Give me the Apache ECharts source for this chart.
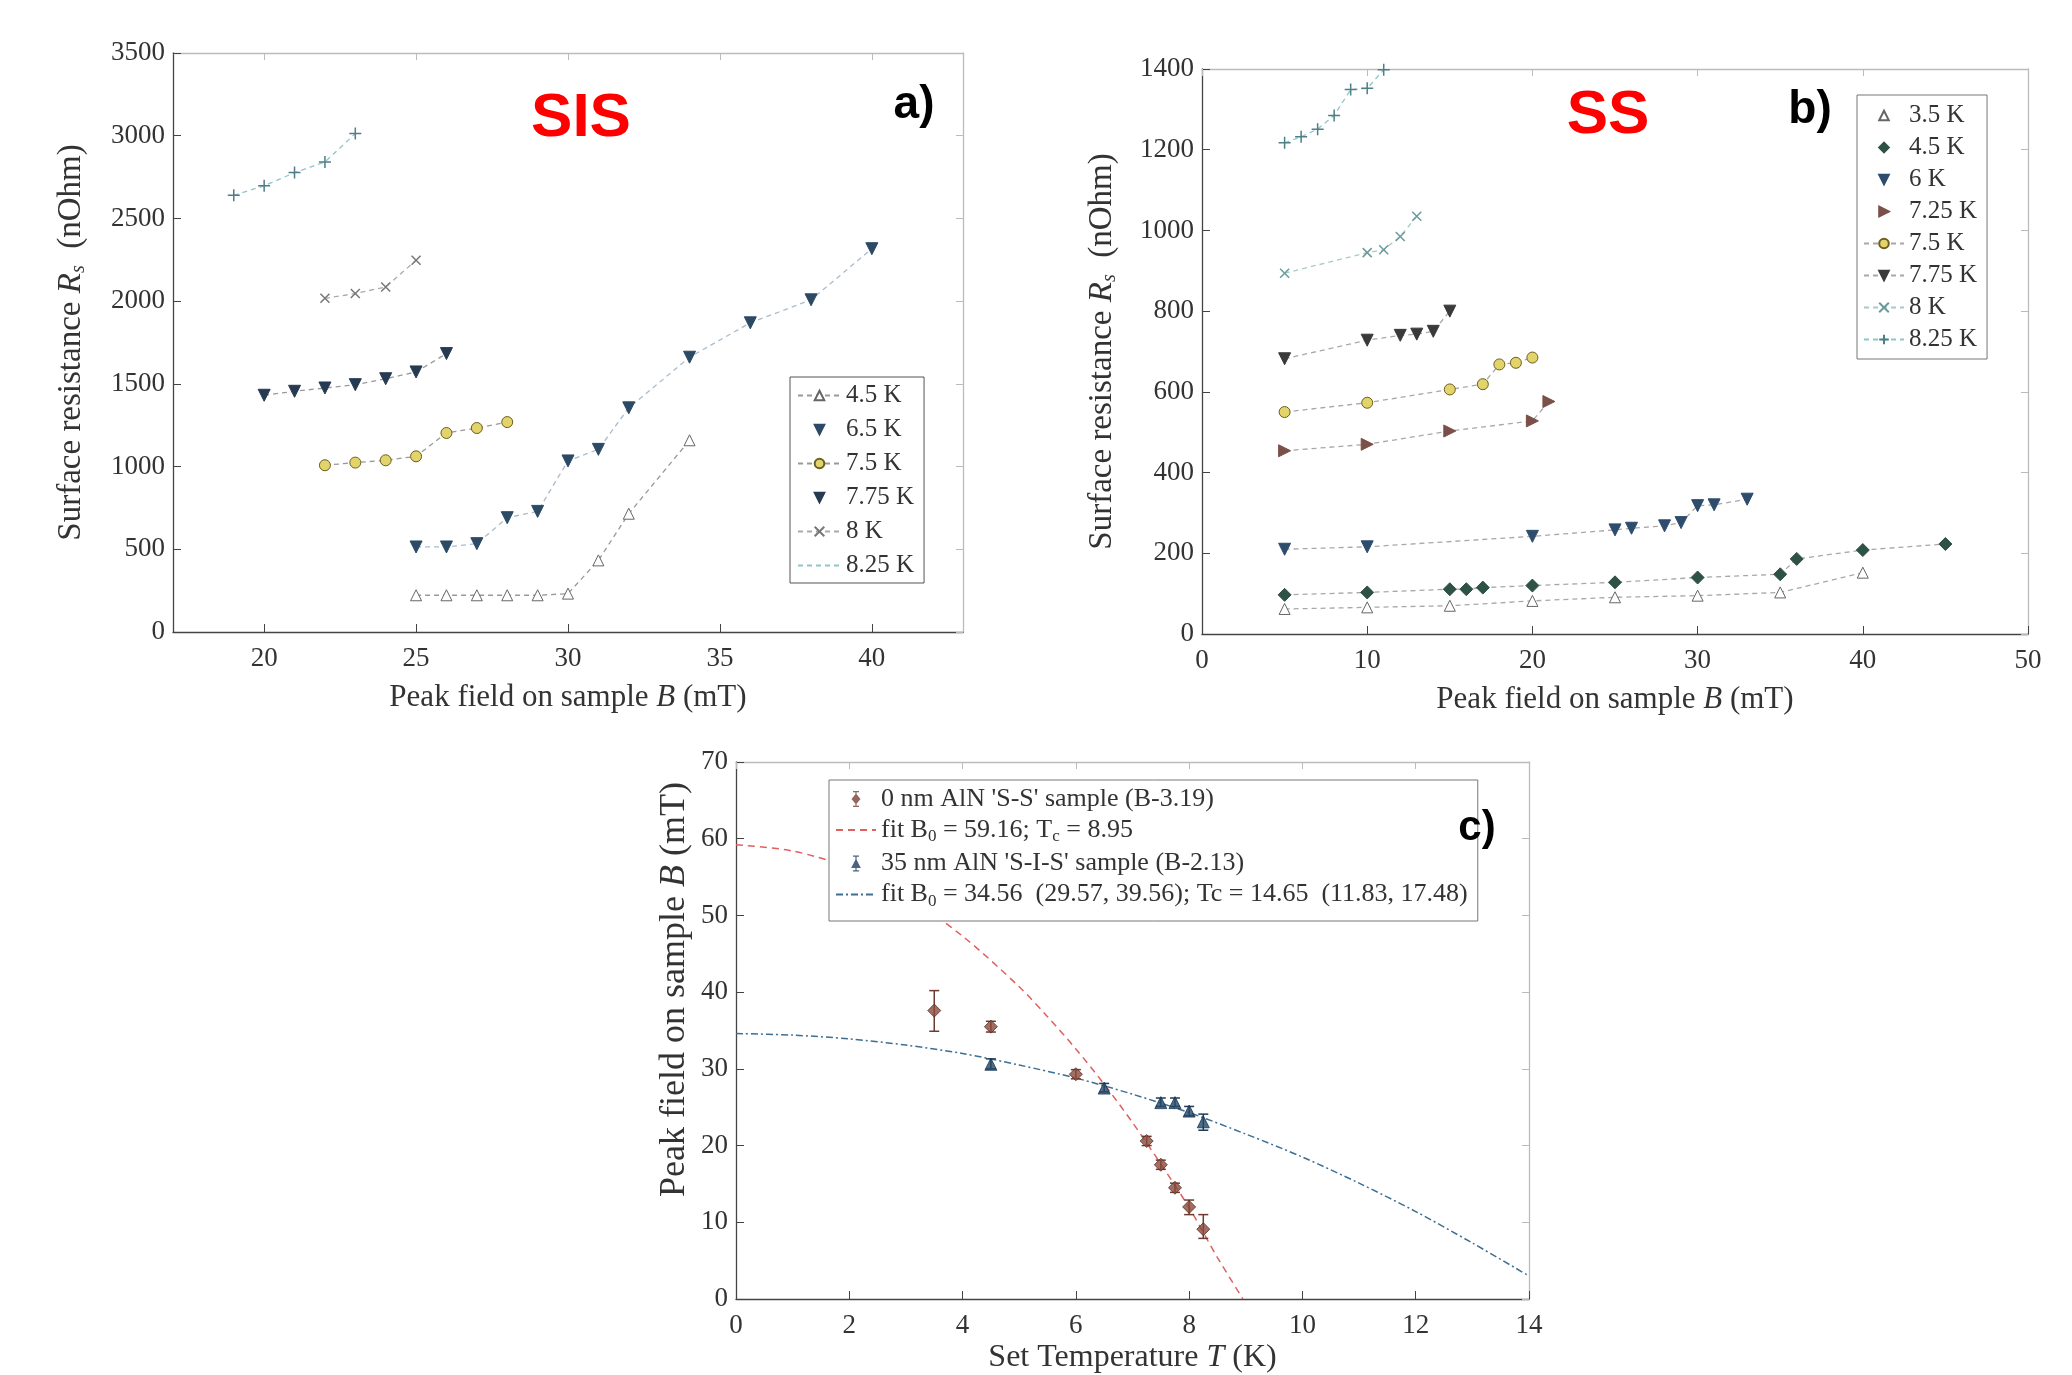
<!DOCTYPE html>
<html><head><meta charset="utf-8">
<script src="https://cdn.jsdelivr.net/npm/echarts@6/dist/echarts.min.js"></script>
<style>html,body{margin:0;padding:0;background:#fff}#c{width:2072px;height:1375px}</style>
</head><body><div id="c"></div><script>
// ---------- Panel a (SIS) ----------
const aTicks = [20, 25, 30, 35, 40];
const aB_45 = [25, 26, 27, 28, 29, 30, 31, 32, 34];
const aR_45 = [222, 222, 222, 222, 222, 232, 433, 715, 1159];
const aB_65 = [25, 26, 27, 28, 29, 30, 31, 32, 34, 36, 38, 40];
const aR_65 = [514, 514, 534, 691, 729, 1034, 1104, 1355, 1661, 1869, 2008, 2317];
const aB_75 = [22, 23, 24, 25, 26, 27, 28];
const aR_75 = [1008, 1024, 1038, 1062, 1203, 1233, 1269];
const aB_775 = [20, 21, 22, 23, 24, 25, 26];
const aR_775 = [1431, 1455, 1475, 1495, 1531, 1572, 1683];
const aB_8 = [22, 23, 24, 25];
const aR_8 = [2017, 2046, 2086, 2247];
const aB_825 = [19, 20, 21, 22, 23];
const aR_825 = [2640, 2697, 2777, 2841, 3013];

// ---------- Panel b (SS) ----------
const bB_35 = [5, 10, 15, 20, 25, 30, 35, 40];
const bR_35 = [62, 66, 70, 82, 91, 95, 103, 152];
const bB_45 = [5, 10, 15, 16, 17, 20, 25, 30, 35, 36, 40, 45];
const bR_45 = [97, 103, 111, 111, 115, 120, 128, 140, 148, 186, 208, 223];
const bB_6 = [5, 10, 20, 25, 26, 28, 29, 30, 31, 33];
const bR_6 = [210, 216, 242, 258, 262, 268, 276, 318, 320, 334];
const bB_725 = [5, 10, 15, 20, 21];
const bR_725 = [454, 470, 503, 528, 576];
const bB_75 = [5, 10, 15, 17, 18, 19, 20];
const bR_75 = [550, 573, 606, 619, 668, 672, 685];
const bB_775 = [5, 10, 12, 13, 14, 15];
const bR_775 = [682, 728, 740, 743, 750, 800];
const bB_8 = [5, 10, 11, 12, 13];
const bR_8 = [894, 945, 952, 985, 1035];
const bB_825 = [5, 6, 7, 8, 9, 10, 11];
const bR_825 = [1217, 1232, 1251, 1285, 1349, 1352, 1398];

// ---------- Panel c ----------
const ssT = [3.5, 4.5, 6, 7.25, 7.5, 7.75, 8, 8.25];
const ssB = [37.6, 35.5, 29.3, 20.6, 17.5, 14.5, 12.0, 9.1];
const ssLo = [34.9, 34.8, 28.7, 20.0, 16.9, 13.9, 11.0, 7.9];
const ssHi = [40.2, 36.2, 29.9, 21.2, 18.1, 15.1, 12.9, 11.0];
const sisT = [4.5, 6.5, 7.5, 7.75, 8, 8.25];
const sisB = [30.6, 27.5, 25.6, 25.6, 24.5, 23.1];
const sisLo = [30.0, 27.0, 25.1, 25.1, 23.9, 22.0];
const sisHi = [31.3, 28.1, 26.2, 26.2, 25.1, 24.1];
const ssFitT = [0, 1, 2, 3, 4, 5, 5.5, 6, 6.5, 7, 7.5, 8, 8.5, 8.95];
const ssFitB = [59.2, 58.4, 56.2, 52.5, 47.3, 40.7, 36.8, 32.6, 28.0, 23.0, 17.6, 11.9, 5.4, 0];
const sisFitT = [0, 1, 2, 3, 4, 5, 6, 7, 8, 9, 10, 11, 12, 13, 14];
const sisFitB = [34.6, 34.4, 33.9, 33.1, 32.0, 30.5, 28.8, 26.7, 24.3, 21.5, 18.5, 15.1, 11.4, 7.3, 3.0];

const zip = (xs, ys) => xs.map((x, i) => [x, ys[i]]);
const SERIF = '"Liberation Serif", "DejaVu Serif", serif';
const SANS = '"Liberation Sans", Arial, sans-serif';

const XMARK = 'path://M0,0L10,10M10,0L0,10';
const PLUS = 'path://M5,0L5,10M0,5L10,5';
const ICON_DIAMOND_ERR = 'path://M0,0M40,16M19.4,0L20.6,0L20.6,16L19.4,16ZM17,0L23,0L23,1.2L17,1.2ZM17,14.8L23,14.8L23,16L17,16ZM20,2.5L24.5,8L20,13.5L15.5,8Z';
const ICON_TRI_ERR = 'path://M0,0M40,16M19.4,0L20.6,0L20.6,16L19.4,16ZM17,0L23,0L23,1.2L17,1.2ZM17,14.8L23,14.8L23,16L17,16ZM20,3L24.8,12.5L15.2,12.5Z';

function lineSer(name, gi, data, o) {
  return {
    type: 'line', name: name, xAxisIndex: gi * 2, yAxisIndex: gi * 2, data: data,
    symbol: o.symbol, symbolSize: o.size || 12, symbolRotate: o.rot || 0,
    showAllSymbol: true, z: 3,
    itemStyle: { color: o.fill, borderColor: o.edge, borderWidth: o.bw || 1 },
    lineStyle: { color: o.line || '#9a9a9a', width: 1.3, type: o.dash || [5, 4] },
    emphasis: { disabled: true }, animation: false
  };
}

const plainNum = v => String(v);
const axisLbl = { color: '#333', fontFamily: SERIF, fontSize: 27, formatter: plainNum };
const xName = function (size) {
  return { color: '#333', fontFamily: SERIF, fontSize: size, rich: { i: { fontStyle: 'italic', fontFamily: SERIF, fontSize: size } } };
};
function xBottom(gi, min, max, extra) {
  return Object.assign({
    type: 'value', gridIndex: gi, min: min, max: max, position: 'bottom',
    axisLine: { show: true, onZero: false, lineStyle: { color: '#444', width: 1.3 } },
    axisTick: { show: true, inside: true, length: 8, lineStyle: { color: '#444' } },
    axisLabel: Object.assign({ margin: 13 }, axisLbl),
    splitLine: { show: false },
    nameLocation: 'middle', nameTextStyle: xName(31)
  }, extra);
}
function xTop(gi, min, max, extra) {
  return Object.assign({
    type: 'value', gridIndex: gi, min: min, max: max, position: 'top',
    axisLine: { show: true, onZero: false, lineStyle: { color: '#bbb', width: 1.3 } },
    axisTick: { show: true, inside: true, length: 7, lineStyle: { color: '#bbb' } },
    axisLabel: { show: false }, splitLine: { show: false }
  }, extra);
}
function yLeft(gi, min, max, interval, extra) {
  return Object.assign({
    type: 'value', gridIndex: gi, min: min, max: max, interval: interval, position: 'left',
    axisLine: { show: true, onZero: false, lineStyle: { color: '#444', width: 1.3 } },
    axisTick: { show: true, inside: true, length: 8, lineStyle: { color: '#444' } },
    axisLabel: Object.assign({ margin: 8 }, axisLbl),
    splitLine: { show: false },
    nameLocation: 'middle', nameRotate: 90
  }, extra);
}
function yRight(gi, min, max, interval) {
  return {
    type: 'value', gridIndex: gi, min: min, max: max, interval: interval, position: 'right',
    axisLine: { show: true, onZero: false, lineStyle: { color: '#bbb', width: 1.3 } },
    axisTick: { show: true, inside: true, length: 7, lineStyle: { color: '#bbb' } },
    axisLabel: { show: false }, splitLine: { show: false }
  };
}

const richName = function (size, pad) {
  return {
    color: '#333', fontFamily: SERIF, fontSize: size, padding: pad || 0,
    rich: {
      i: { fontStyle: 'italic', fontFamily: SERIF, fontSize: size },
      s: { fontStyle: 'italic', fontFamily: SERIF, fontSize: Math.round(size * 0.6), padding: [16, 0, 0, 0] }
    }
  };
};

function errSeries(name, T, lo, hi, color) {
  return {
    type: 'custom', name: name + '_err', xAxisIndex: 4, yAxisIndex: 4, z: 2,
    data: T.map((t, i) => [t, lo[i], hi[i]]),
    renderItem: function (params, api) {
      const p1 = api.coord([api.value(0), api.value(1)]);
      const p2 = api.coord([api.value(0), api.value(2)]);
      const w = 5;
      const st = { stroke: color, lineWidth: 1.5 };
      return {
        type: 'group', children: [
          { type: 'line', shape: { x1: p1[0], y1: p1[1], x2: p2[0], y2: p2[1] }, style: st },
          { type: 'line', shape: { x1: p1[0] - w, y1: p1[1], x2: p1[0] + w, y2: p1[1] }, style: st },
          { type: 'line', shape: { x1: p2[0] - w, y1: p2[1], x2: p2[0] + w, y2: p2[1] }, style: st }
        ]
      };
    },
    silent: true, animation: false
  };
}

const series = [
  // panel a
  lineSer('a|4.5 K', 0, zip(aB_45, aR_45), { symbol: 'triangle', fill: '#ffffff', edge: '#666', size: 11, line: '#999' }),
  lineSer('a|6.5 K', 0, zip(aB_65, aR_65), { symbol: 'triangle', rot: 180, fill: '#2c4a66', edge: '#2c4a66', size: 12, line: '#a9bccc' }),
  lineSer('a|7.5 K', 0, zip(aB_75, aR_75), { symbol: 'circle', fill: '#e2d46a', edge: '#6b5e20', size: 11, line: '#999' }),
  lineSer('a|7.75 K', 0, zip(aB_775, aR_775), { symbol: 'triangle', rot: 180, fill: '#263b52', edge: '#263b52', size: 12, line: '#999' }),
  lineSer('a|8 K', 0, zip(aB_8, aR_8), { symbol: XMARK, fill: '#777', edge: '#777', size: 9, bw: 1.5, line: '#aaa' }),
  lineSer('a|8.25 K', 0, zip(aB_825, aR_825), { symbol: PLUS, fill: '#4f7d86', edge: '#4f7d86', size: 12, bw: 1.5, line: '#8ec6cc' }),
  // panel b
  lineSer('b|3.5 K', 1, zip(bB_35, bR_35), { symbol: 'triangle', fill: '#ffffff', edge: '#666', size: 11, line: '#a8a8a8' }),
  lineSer('b|4.5 K', 1, zip(bB_45, bR_45), { symbol: 'diamond', fill: '#2e5244', edge: '#2e5244', size: 13, line: '#a8a8a8' }),
  lineSer('b|6 K', 1, zip(bB_6, bR_6), { symbol: 'triangle', rot: 180, fill: '#2e4d6d', edge: '#2e4d6d', size: 12, line: '#a8a8a8' }),
  lineSer('b|7.25 K', 1, zip(bB_725, bR_725), { symbol: 'triangle', rot: -90, fill: '#7a5048', edge: '#7a5048', size: 12, line: '#a8a8a8' }),
  lineSer('b|7.5 K', 1, zip(bB_75, bR_75), { symbol: 'circle', fill: '#e2d46a', edge: '#6b5e20', size: 11, line: '#a8a8a8' }),
  lineSer('b|7.75 K', 1, zip(bB_775, bR_775), { symbol: 'triangle', rot: 180, fill: '#3a3a3a', edge: '#3a3a3a', size: 12, line: '#a8a8a8' }),
  lineSer('b|8 K', 1, zip(bB_8, bR_8), { symbol: XMARK, fill: '#6a9a9a', edge: '#6a9a9a', size: 9, bw: 1.5, line: '#a9c9c9' }),
  lineSer('b|8.25 K', 1, zip(bB_825, bR_825), { symbol: PLUS, fill: '#4d7f84', edge: '#4d7f84', size: 12, bw: 1.5, line: '#8ec6cc' }),
  // panel c
  errSeries('ss', ssT, ssLo, ssHi, '#6b3a30'),
  errSeries('sis', sisT, sisLo, sisHi, '#1f3b56'),
  {
    type: 'line', name: 'c|ssfit', xAxisIndex: 4, yAxisIndex: 4, data: zip(ssFitT, ssFitB),
    smooth: 0.3, symbol: 'none', z: 1,
    lineStyle: { color: '#e06060', width: 1.5, type: [7, 5] }, itemStyle: { color: '#e06060' },
    animation: false, emphasis: { disabled: true }
  },
  {
    type: 'line', name: 'c|sisfit', xAxisIndex: 4, yAxisIndex: 4, data: zip(sisFitT, sisFitB),
    smooth: 0.3, symbol: 'none', z: 1,
    lineStyle: { color: '#3d6f92', width: 1.5, type: [7, 3, 2, 3] }, itemStyle: { color: '#3d6f92' },
    animation: false, emphasis: { disabled: true }
  },
  {
    type: 'scatter', name: 'c|ss', xAxisIndex: 4, yAxisIndex: 4, data: zip(ssT, ssB),
    symbol: 'diamond', symbolSize: 13, z: 3,
    itemStyle: { color: '#8a4a3c', borderColor: '#5a2e26', borderWidth: 1 },
    animation: false, emphasis: { disabled: true }
  },
  {
    type: 'scatter', name: 'c|sis', xAxisIndex: 4, yAxisIndex: 4, data: zip(sisT, sisB),
    symbol: 'triangle', symbolSize: 12, z: 3,
    itemStyle: { color: '#24496a', borderColor: '#1a3350', borderWidth: 1 },
    animation: false, emphasis: { disabled: true }
  }
];

const legendText = { color: '#333', fontFamily: SERIF, fontSize: 25, lineHeight: 24 };
const noLine = { opacity: 0 };
const noSym = { opacity: 0 };

const cLabels = {
  'c|ss': "0 nm AlN 'S-S' sample (B-3.19)",
  'c|ssfit': 'fit B{sub|0} = 59.16; T{sub|c} = 8.95',
  'c|sis': "35 nm AlN 'S-I-S' sample (B-2.13)",
  'c|sisfit': 'fit B{sub|0} = 34.56  (29.57, 39.56); Tc = 14.65  (11.83, 17.48)'
};

const option = {
  backgroundColor: '#ffffff',
  animation: false,
  grid: [
    { left: 173, top: 53, width: 790, height: 579, containLabel: false },
    { left: 1202, top: 69, width: 826, height: 565, containLabel: false },
    { left: 736, top: 762, width: 793, height: 539, containLabel: false }
  ],
  xAxis: [
    xBottom(0, 17, 43, {
      axisTick: { show: true, inside: true, length: 8, lineStyle: { color: '#444' }, customValues: aTicks },
      axisLabel: Object.assign({ margin: 13, customValues: aTicks }, axisLbl),
      name: 'Peak field on sample {i|B} (mT)', nameGap: 50
    }),
    xTop(0, 17, 43, { axisTick: { show: true, inside: true, length: 7, lineStyle: { color: '#bbb' }, customValues: aTicks } }),
    xBottom(1, 0, 50, { interval: 10, name: 'Peak field on sample {i|B} (mT)', nameGap: 50 }),
    xTop(1, 0, 50, { interval: 10 }),
    xBottom(2, 0, 14, { interval: 2, name: 'Set Temperature {i|T} (K)', nameGap: 43, nameTextStyle: xName(32) }),
    xTop(2, 0, 14, { interval: 2 })
  ],
  yAxis: [
    yLeft(0, 0, 3500, 500, { name: 'Surface resistance {i|R}{s|s}  (nOhm)', nameGap: 84, nameTextStyle: richName(33) }),
    yRight(0, 0, 3500, 500),
    yLeft(1, 0, 1400, 200, { name: 'Surface resistance {i|R}{s|s}  (nOhm)', nameGap: 82, nameTextStyle: richName(33) }),
    yRight(1, 0, 1400, 200),
    yLeft(2, 0, 70, 10, { name: 'Peak field on sample {i|B} (mT)', nameGap: 43, nameTextStyle: richName(36, [0, 0, 0, 82]) }),
    yRight(2, 0, 70, 10)
  ],
  legend: [
    {
      orient: 'vertical', left: 790, top: 377, padding: [6, 10, 5, 7], itemGap: 9,
      itemWidth: 43, itemHeight: 12, itemTextGap: 6,
      borderColor: '#555', borderWidth: 1, backgroundColor: '#fff',
      textStyle: legendText, selectedMode: false,
      formatter: n => n.split('|')[1],
      data: [
        { name: 'a|4.5 K' },
        { name: 'a|6.5 K', lineStyle: noLine },
        { name: 'a|7.5 K' },
        { name: 'a|7.75 K', lineStyle: noLine },
        { name: 'a|8 K' },
        { name: 'a|8.25 K', itemStyle: noSym }
      ]
    },
    {
      orient: 'vertical', left: 1857, top: 95, padding: [8, 10, 7, 6], itemGap: 7,
      itemWidth: 40, itemHeight: 12, itemTextGap: 10,
      borderColor: '#777', borderWidth: 1, backgroundColor: '#fff',
      textStyle: legendText, selectedMode: false,
      formatter: n => n.split('|')[1],
      data: [
        { name: 'b|3.5 K', lineStyle: noLine },
        { name: 'b|4.5 K', lineStyle: noLine },
        { name: 'b|6 K', lineStyle: noLine },
        { name: 'b|7.25 K', lineStyle: noLine },
        { name: 'b|7.5 K' },
        { name: 'b|7.75 K' },
        { name: 'b|8 K' },
        { name: 'b|8.25 K' }
      ]
    },
    {
      orient: 'vertical', left: 829, top: 780, padding: [6, 10, 11, 6], itemGap: 5,
      itemWidth: 40, itemHeight: 16, itemTextGap: 8,
      borderColor: '#777', borderWidth: 1, backgroundColor: '#fff',
      textStyle: {
        color: '#333', fontFamily: SERIF, fontSize: 26, lineHeight: 26,
        rich: { sub: { fontFamily: SERIF, fontSize: 17, padding: [14, 0, 0, 0] } }
      },
      selectedMode: false,
      formatter: n => cLabels[n],
      data: [
        { name: 'c|ss', icon: ICON_DIAMOND_ERR, itemStyle: { color: '#7a4034', borderWidth: 0 } },
        { name: 'c|ssfit', itemStyle: noSym },
        { name: 'c|sis', icon: ICON_TRI_ERR, itemStyle: { color: '#1f3d5c', borderWidth: 0 } },
        { name: 'c|sisfit', itemStyle: noSym }
      ]
    }
  ],
  graphic: [
    { type: 'text', x: 581, y: 119, z: 10, style: { text: 'SIS', font: 'bold 62px ' + SANS, fill: '#ff0000', align: 'center', verticalAlign: 'middle' } },
    { type: 'text', x: 914, y: 105, z: 10, style: { text: 'a)', font: 'bold 46px ' + SANS, fill: '#000', align: 'center', verticalAlign: 'middle' } },
    { type: 'text', x: 1608, y: 116, z: 10, style: { text: 'SS', font: 'bold 62px ' + SANS, fill: '#ff0000', align: 'center', verticalAlign: 'middle' } },
    { type: 'text', x: 1810, y: 110, z: 10, style: { text: 'b)', font: 'bold 46px ' + SANS, fill: '#000', align: 'center', verticalAlign: 'middle' } },
    { type: 'text', x: 1477, y: 828, z: 10, style: { text: 'c)', font: 'bold 42px ' + SANS, fill: '#000', align: 'center', verticalAlign: 'middle' } }
  ],
  series: series
};

const chart = echarts.init(document.getElementById('c'), null, { renderer: 'canvas' });
chart.setOption(option);
</script></body></html>
